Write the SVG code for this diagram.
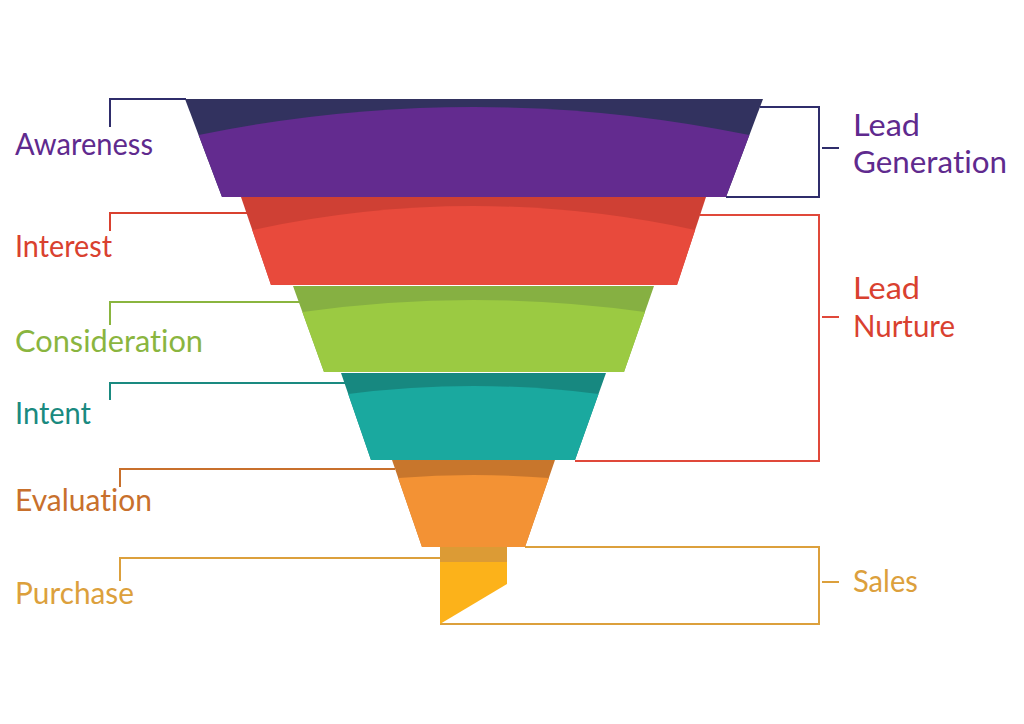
<svg xmlns="http://www.w3.org/2000/svg" width="1024" height="724" viewBox="0 0 1024 724">
<style>
.lbl{font-family:Lato,"Liberation Sans",sans-serif;font-size:31px;font-variant-ligatures:none;font-feature-settings:"liga" 0,"clig" 0;}
.ln{fill:none;stroke-width:2;}
</style>
<rect width="1024" height="724" fill="#ffffff"/>
<g id="connectors">
  <polyline class="ln" stroke="#2f2d6b" points="110,127 110,99 186,99"/>
  <polyline class="ln" stroke="#d9412f" points="110,231 110,213 247,213"/>
  <polyline class="ln" stroke="#8ab53f" points="110,325 110,302 299,302"/>
  <polyline class="ln" stroke="#1a8a80" points="110,400 110,383 345,383"/>
  <polyline class="ln" stroke="#c8702c" points="120,487 120,469 395,469"/>
  <polyline class="ln" stroke="#dca03c" points="120,581 120,558 441,558"/>
  <polyline class="ln" stroke="#2f2d6b" points="760,107 819,107 819,197 726,197"/>
  <line class="ln" stroke="#2f2d6b" x1="822" y1="148" x2="839" y2="148"/>
  <polyline class="ln" stroke="#e0483a" points="700,215 819,215 819,461 575,461"/>
  <line class="ln" stroke="#e0483a" x1="822" y1="317" x2="839" y2="317"/>
  <polyline class="ln" stroke="#dca03c" points="525,547 819,547 819,624 440,624"/>
  <line class="ln" stroke="#dca03c" x1="822" y1="582" x2="839" y2="582"/>
</g>
<g id="awareness">
  <polygon fill="#32325f" points="185,99 763,99 726,197 222,197"/>
  <path fill="#632b8f" d="M198.6,135 Q474,79 749.4,135 L726,197 L222,197 Z"/>
  <text class="lbl" x="15" y="155" fill="#5f2a8e" textLength="138" lengthAdjust="spacingAndGlyphs">Awareness</text>
</g>
<g id="interest">
  <polygon fill="#cf4034" points="241,197 706,197 677,285 271,285"/>
  <path fill="#e84a3c" d="M252.3,230 Q473.7,182 695.1,230 L677,285 L271,285 Z"/>
  <text class="lbl" x="15" y="257" fill="#d9412f" textLength="97" lengthAdjust="spacingAndGlyphs">Interest</text>
</g>
<g id="consideration">
  <polygon fill="#86b042" points="293,286 654,286 624,372 324,372"/>
  <path fill="#9bca42" d="M302.4,312 Q473.6,288 644.9,312 L624,372 L324,372 Z"/>
  <text class="lbl" x="15" y="352" fill="#8ab53f" textLength="188" lengthAdjust="spacingAndGlyphs">Consideration</text>
</g>
<g id="intent">
  <polygon fill="#178880" points="341,373 606,373 575,460 371,460"/>
  <path fill="#1aa99f" d="M348.2,394 Q473.4,378 598.5,394 L575,460 L371,460 Z"/>
  <text class="lbl" x="15" y="424" fill="#1a8a80" textLength="76" lengthAdjust="spacingAndGlyphs">Intent</text>
</g>
<g id="evaluation">
  <polygon fill="#c8762c" points="392,460 555,460 525,547 422,547"/>
  <path fill="#f39234" d="M398.2,478 Q473.5,472 548.8,478 L525,547 L422,547 Z"/>
  <text class="lbl" x="15" y="511" fill="#c8702c" textLength="137" lengthAdjust="spacingAndGlyphs">Evaluation</text>
</g>
<g id="purchase">
  <rect fill="#dc9b35" x="440" y="547" width="67" height="15"/>
  <polygon fill="#fcb21a" points="440,562 507,562 507,584 440,624"/>
  <text class="lbl" x="15" y="604" fill="#dca03c" textLength="119" lengthAdjust="spacingAndGlyphs">Purchase</text>
</g>
<g id="lead-generation">
  <text class="lbl" x="853" y="136" fill="#5f2a8e" textLength="67" lengthAdjust="spacingAndGlyphs">Lead</text>
  <text class="lbl" x="853" y="173" fill="#5f2a8e" textLength="154" lengthAdjust="spacingAndGlyphs">Generation</text>
</g>
<g id="lead-nurture">
  <text class="lbl" x="853" y="299" fill="#d9412f" textLength="67" lengthAdjust="spacingAndGlyphs">Lead</text>
  <text class="lbl" x="853" y="337" fill="#d9412f" textLength="102" lengthAdjust="spacingAndGlyphs">Nurture</text>
</g>
<g id="sales">
  <text class="lbl" x="853" y="592" fill="#dca03c" textLength="65" lengthAdjust="spacingAndGlyphs">Sales</text>
</g>
</svg>
